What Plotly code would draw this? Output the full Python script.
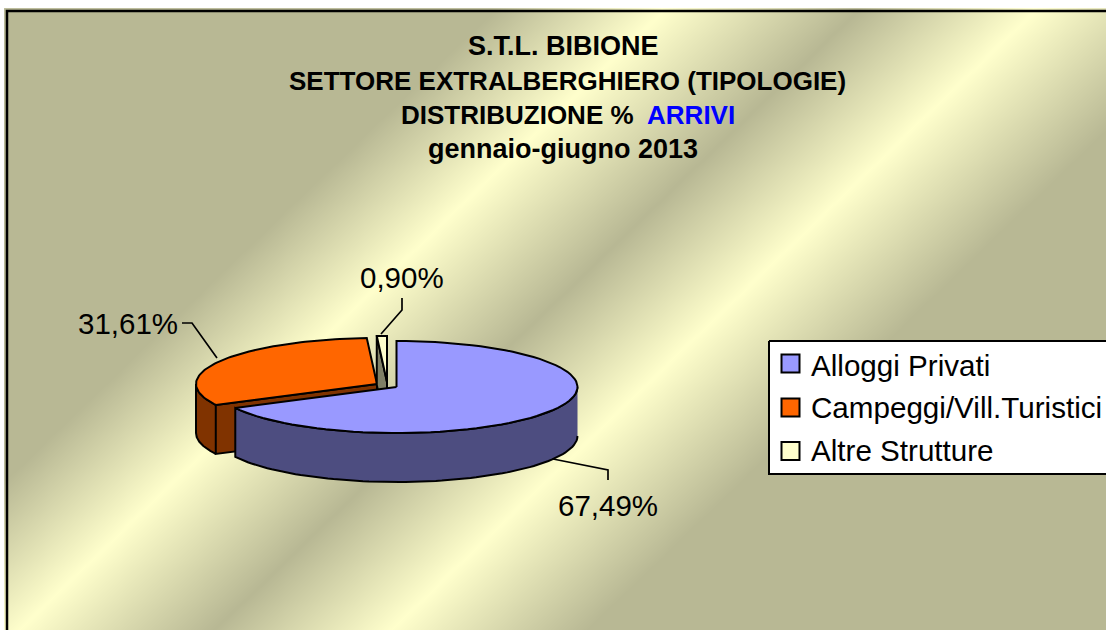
import numpy as np
import plotly.graph_objects as go

# --- data ---
categories = ["Alloggi Privati", "Campeggi/Vill.Turistici", "Altre Strutture"]
shares = [67.49, 31.61, 0.90]
title_lines = [
    "S.T.L. BIBIONE",
    "SETTORE EXTRALBERGHIERO (TIPOLOGIE)",
    'DISTRIBUZIONE %  <span style="color:#0000ff">ARRIVI</span>',
    "gennaio-giugno 2013",
]

# --- style / layout ---
W, H = 1106, 630
FONT = "Liberation Sans"
top_colors = ["#9999ff", "#ff6600", "#ffffcc"]
side_colors = ["#4d4d80", "#803300", "#808066"]
apexes = [(396.5, 387), (377, 384), (387, 382)]
RX, RY, DEPTH = 181, 46, 49
title_x = [563.5, 567, 567.5, 562.5]
title_y = [46, 81, 115, 149]
title_size = [27, 26, 26, 27]
label_pos = [(608, 505.5), (128, 323.5), (402, 277.5)]
leaders = [
    ([553, 608, 608], [459, 470, 480]),
    ([182, 192, 217], [323, 323, 358]),
    ([402, 402, 381], [298, 310, 334]),
]
legend_rows = [365, 407.5, 450]
DARK, BRIGHT = "#b8b894", "#ffffcc"
band_stops = [503, 673, 868, 1045, 1242]

# slice angles, clockwise from 12 o'clock
edges = np.radians(np.concatenate([[0], np.cumsum(shares) * 3.6]))


def rim(apex, a0, a1, n=80):
    a = np.linspace(a0, a1, n)
    return apex[0] + RX * np.sin(a), apex[1] - RY * np.cos(a)


def poly(xs, ys, fill):
    return go.Scatter(
        x=xs, y=ys, mode="lines", fill="toself", fillcolor=fill,
        line=dict(color="black", width=2), hoverinfo="skip", showlegend=False,
    )


def wall(apex, a0, a1, fill):
    x, y = rim(apex, a0, a1)
    return poly(list(x) + list(x[::-1]), list(y) + list(y[::-1] + DEPTH), fill)


def cut(apex, a, fill):
    px, py = rim(apex, a, a, 1)
    xs = [apex[0], px[0], px[0], apex[0], apex[0]]
    ys = [apex[1], py[0], py[0] + DEPTH, apex[1] + DEPTH, apex[1]]
    return poly(xs, ys, fill)


def top(apex, a0, a1, fill):
    x, y = rim(apex, a0, a1)
    return poly([apex[0]] + list(x) + [apex[0]], [apex[1]] + list(y) + [apex[1]], fill)


fig = go.Figure()

# diagonal banded background
gx = np.linspace(8, W, 140)
gy = np.linspace(12, H, 80)
gz = gx[None, :] + 1.04 * gy[:, None]
lo, hi = gz.min(), gz.max()
cs = [[0, DARK]]
for i, s in enumerate(band_stops):
    cs.append([(s - lo) / (hi - lo), DARK if i % 2 == 0 else BRIGHT])
cs.append([1, DARK])
fig.add_trace(go.Heatmap(x=gx, y=gy, z=gz, colorscale=cs, zsmooth="best",
                         showscale=False, hoverinfo="skip"))

# orange slice
a0, a1 = edges[1], edges[2]
fig.add_trace(wall(apexes[1], a0, np.radians(270), side_colors[1]))
fig.add_trace(cut(apexes[1], a0, side_colors[1]))
fig.add_trace(top(apexes[1], a0, a1, top_colors[1]))
# pale slice
a0, a1 = edges[2], edges[3]
fig.add_trace(cut(apexes[2], a0, side_colors[2]))
fig.add_trace(top(apexes[2], a0, a1, top_colors[2]))
# blue slice
a0, a1 = edges[0], edges[1]
fig.add_trace(wall(apexes[0], np.radians(90), a1, side_colors[0]))
fig.add_trace(top(apexes[0], a0, a1, top_colors[0]))

# leader lines
for lx, ly in leaders:
    fig.add_trace(go.Scatter(x=lx, y=ly, mode="lines", line=dict(color="black", width=1.7),
                             hoverinfo="skip", showlegend=False))

# legend box and swatches
fig.add_trace(poly([769, W + 20, W + 20, 769, 769], [341, 341, 474, 474, 341], "white"))
fig.add_trace(go.Scatter(
    x=[790.5] * 3, y=[363.5, 407.5, 451], mode="markers",
    marker=dict(symbol="square", size=18, color=top_colors, line=dict(color="black", width=2)),
    hoverinfo="skip", showlegend=False,
))

annotations = []
for line, x, y, s in zip(title_lines, title_x, title_y, title_size):
    annotations.append(dict(x=x, y=y, text=f"<b>{line}</b>", showarrow=False, xanchor="center",
                            yanchor="middle", font=dict(family=FONT, size=s, color="black")))
for v, (x, y) in zip(shares, label_pos):
    annotations.append(dict(x=x, y=y, text=f"{v:.2f}%".replace(".", ","), showarrow=False,
                            xanchor="center", yanchor="middle",
                            font=dict(family=FONT, size=29.5, color="black")))
for c, y in zip(categories, legend_rows):
    annotations.append(dict(x=808.5, y=y, text=c, showarrow=False, xanchor="left", yanchor="middle",
                            font=dict(family=FONT, size=29.6, color="black")))

shapes = [
    dict(type="rect", x0=7, y0=11, x1=W + 20, y1=H + 20, line=dict(color="black", width=2.5),
         layer="above"),
]

fig.update_layout(
    width=W, height=H, margin=dict(l=0, r=0, t=0, b=0), autosize=False,
    paper_bgcolor="white", plot_bgcolor="white", showlegend=False,
    xaxis=dict(range=[0, W], visible=False, fixedrange=True),
    yaxis=dict(range=[H, 0], visible=False, fixedrange=True),
    annotations=annotations, shapes=shapes,
)
fig.write_html(
    "out.html", config={"displayModeBar": False},
    post_script="document.body.style.margin='0';document.documentElement.style.overflow='hidden';",
)
